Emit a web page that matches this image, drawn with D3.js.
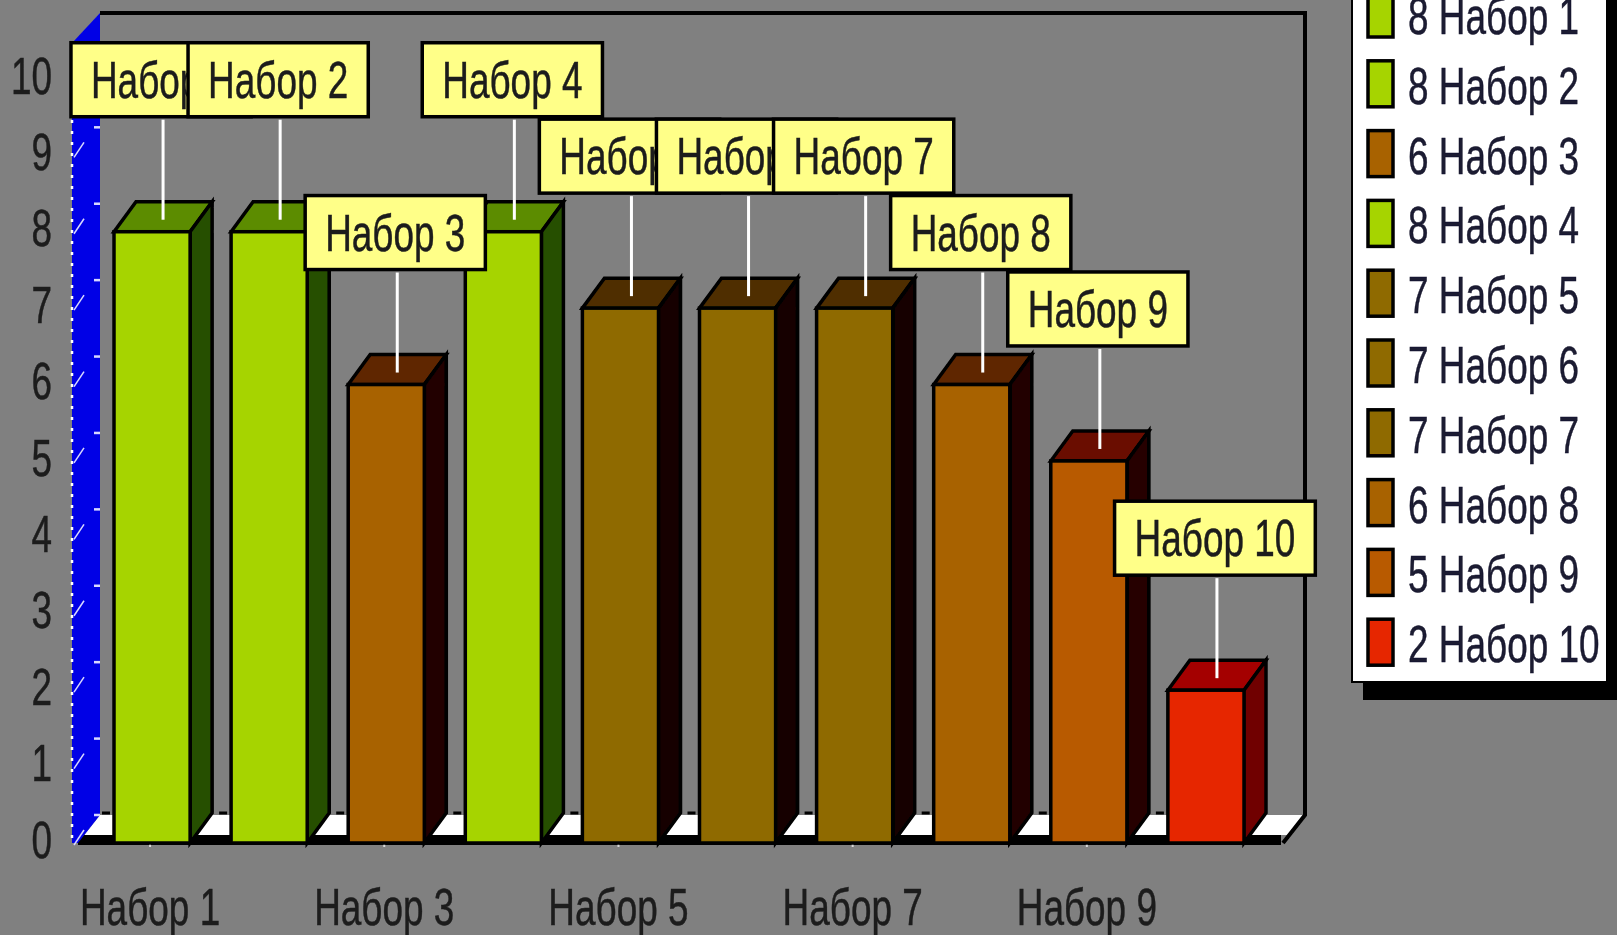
<!DOCTYPE html>
<html>
<head>
<meta charset="utf-8">
<script src="https://cdn.jsdelivr.net/npm/d3@7"></script>
<style>
html, body { margin: 0; padding: 0; background: #808080; overflow: hidden; }
text { font-family: "Liberation Sans", Arial, sans-serif; font-size: 52px; fill: #1c1c1c; stroke: #1c1c1c; stroke-width: 0.5px; }
</style>
</head>
<body>
<div id="chart"></div>
<script>
const categories = ["Набор 1", "Набор 2", "Набор 3", "Набор 4", "Набор 5", "Набор 6", "Набор 7", "Набор 8", "Набор 9", "Набор 10"];
const values = [8, 8, 6, 8, 7, 7, 7, 6, 5, 2];
const yTicks = [0, 1, 2, 3, 4, 5, 6, 7, 8, 9, 10];
const xTicks = ["Набор 1", "Набор 3", "Набор 5", "Набор 7", "Набор 9"];

const width = 1617;
const height = 935;
const depthX = 22;
const depthY = 30;
const textSquash = 0.71;

const colorKeys = [8, 7, 6, 5, 2];
const frontColor = d3.scaleOrdinal().domain(colorKeys).range(["#a6d400", "#8f6a00", "#a86200", "#b85a00", "#e62600"]);
const topColor = d3.scaleOrdinal().domain(colorKeys).range(["#5c8c05", "#4f2e00", "#5e2600", "#6a1000", "#a40000"]);
const sideColor = d3.scaleOrdinal().domain(colorKeys).range(["#265000", "#150000", "#200000", "#250000", "#700000"]);

const x = d3.scaleBand()
    .domain(categories)
    .range([114, 1244])
    .paddingInner(0.35)
    .paddingOuter(0);

const y = d3.scaleLinear()
    .domain([0, 10.47])
    .range([843, 43]);

const svg = d3.select("#chart")
    .append("svg")
    .attr("width", width)
    .attr("height", height)
    .style("display", "block");

svg.append("defs").append("filter")
    .attr("id", "soft")
    .attr("x", 0).attr("y", 0)
    .attr("width", "100%").attr("height", "100%")
    .attr("filterUnits", "userSpaceOnUse")
    .append("feGaussianBlur")
    .attr("stdDeviation", 0.7);

const root = svg.append("g").attr("filter", "url(#soft)");

root.append("rect")
    .attr("width", width)
    .attr("height", height)
    .attr("fill", "#808080");

// walls and floor
const wallLeft = 100;
const wallRight = 1305;
const wallTop = y.range()[1] - depthY;
const wallBottom = y(0) - depthY + 2;
const floorStrip = 8;
const floorCut = depthX * floorStrip / (y(0) - wallBottom);

root.append("polygon")
    .attr("points", [[wallLeft, wallBottom], [wallRight, wallBottom], [wallRight - depthX + floorCut, y(0) - floorStrip], [wallLeft - depthX + floorCut, y(0) - floorStrip]].join(" "))
    .attr("fill", "#fff");

root.append("rect")
    .attr("x", wallLeft - depthX)
    .attr("y", y(0) - floorStrip)
    .attr("width", wallRight - wallLeft - 2)
    .attr("height", floorStrip + 2)
    .attr("fill", "#000");

// short bits of the floor's rear edge showing beside the bars
root.selectAll(".floor-dash")
    .data(categories)
    .join("line")
    .attr("class", "floor-dash")
    .attr("x1", d => x(d) - 12)
    .attr("x2", d => x(d) - 4)
    .attr("y1", wallBottom - 2)
    .attr("y2", wallBottom - 2)
    .attr("stroke", "#000")
    .attr("stroke-width", 3);

root.append("polygon")
    .attr("points", [[72, wallTop + depthY], [wallLeft, wallTop], [wallLeft, wallBottom], [wallLeft - depthX, y(0)], [72, y(0)]].join(" "))
    .attr("fill", "#0505e6");

root.append("path")
    .attr("d", `M${wallLeft},${wallTop}H${wallRight}V${wallBottom}L${wallRight - depthX},${y(0)}`)
    .attr("fill", "none")
    .attr("stroke", "#000")
    .attr("stroke-width", 4);

root.append("line")
    .attr("x1", 72).attr("x2", 72)
    .attr("y1", wallTop + depthY).attr("y2", y(0))
    .attr("stroke", "#fff")
    .attr("stroke-width", 2.5)
    .attr("stroke-dasharray", "3 8");

// little tick marks on the blue wall
root.selectAll(".wall-tick")
    .data(yTicks)
    .join("line")
    .attr("class", "wall-tick")
    .attr("x1", 74)
    .attr("y1", d => y(d) + 2)
    .attr("x2", 84)
    .attr("y2", d => y(d) - 13)
    .attr("stroke", "#d8d8ff")
    .attr("stroke-width", 1.5);

root.selectAll(".wall-stub")
    .data(yTicks)
    .join("line")
    .attr("class", "wall-stub")
    .attr("x1", 94)
    .attr("x2", wallLeft)
    .attr("y1", d => y(d) - depthY + 2)
    .attr("y2", d => y(d) - depthY + 2)
    .attr("stroke", "#d8d8ff")
    .attr("stroke-width", 2.5);

// axes
const yAxis = root.append("g")
    .attr("transform", "translate(52,-3)")
    .call(d3.axisLeft(y).tickValues(yTicks).tickSize(0).tickPadding(0));

const xAxis = root.append("g")
    .attr("transform", `translate(-2,${y(0)})`)
    .call(d3.axisBottom(x).tickValues(xTicks).tickSize(4).tickPadding(0));

yAxis.select(".domain").remove();
xAxis.select(".domain").remove();
xAxis.selectAll("line").attr("stroke", "#d8d8d8").attr("stroke-width", 2);
yAxis.selectAll("text").attr("dy", "0.33em").attr("font-size", null);
xAxis.selectAll("text").attr("y", 82).attr("dy", 0);
root.selectAll(".tick text").style("font-family", null).style("font-size", "52px");
root.selectAll("g").filter(function () { return this.hasAttribute("font-family"); })
    .attr("font-family", null).attr("font-size", null);

// bars
const bars = root.selectAll(".bar")
    .data(categories)
    .join("g")
    .attr("class", "bar");

const barLeft = d => x(d);
const barRight = d => x(d) + x.bandwidth();
const barTop = (d, i) => y(values[i]);

bars.append("polygon")
    .attr("points", (d, i) => [
        [barLeft(d), barTop(d, i)],
        [barLeft(d) + depthX, barTop(d, i) - depthY],
        [barRight(d) + depthX, barTop(d, i) - depthY],
        [barRight(d), barTop(d, i)]
    ].join(" "))
    .attr("fill", (d, i) => topColor(values[i]));

bars.append("polygon")
    .attr("points", (d, i) => [
        [barRight(d), barTop(d, i)],
        [barRight(d) + depthX, barTop(d, i) - depthY],
        [barRight(d) + depthX, y(0) - depthY],
        [barRight(d), y(0)]
    ].join(" "))
    .attr("fill", (d, i) => sideColor(values[i]));

bars.append("rect")
    .attr("x", barLeft)
    .attr("y", barTop)
    .attr("width", x.bandwidth())
    .attr("height", (d, i) => y(0) - barTop(d, i))
    .attr("fill", (d, i) => frontColor(values[i]));

bars.selectAll("polygon, rect")
    .attr("stroke", "#000")
    .attr("stroke-width", 3.5)
    .attr("stroke-linejoin", "miter");

// callouts, later ones sit on top of earlier ones
const labelHeight = 74;
const labelGap = 103;
const leaderEnd = 12;

const callouts = root.selectAll(".callout")
    .data(categories)
    .join("g")
    .attr("class", "callout");

const leaderX = d => x(d) + x.bandwidth() / 2 + depthX / 2;

callouts.append("line")
    .attr("x1", leaderX)
    .attr("x2", leaderX)
    .attr("y1", (d, i) => barTop(d, i) - leaderEnd - labelGap + 3)
    .attr("y2", (d, i) => barTop(d, i) - leaderEnd)
    .attr("stroke", "#fff")
    .attr("stroke-width", 3);

const calloutBox = callouts.append("rect")
    .attr("y", (d, i) => barTop(d, i) - leaderEnd - labelGap - labelHeight)
    .attr("height", labelHeight)
    .attr("fill", "#ffff88")
    .attr("stroke", "#000")
    .attr("stroke-width", 3.5);

const calloutText = callouts.append("text")
    .attr("x", d => leaderX(d) - 2)
    .attr("y", (d, i) => barTop(d, i) - leaderEnd - labelGap - 19)
    .attr("text-anchor", "middle")
    .text(d => d);

// legend
const legendLeft = 1352;
const legendRight = 1607;
const legendBottom = 682;
const legendStep = 69.8;
const legendFirst = 14;

root.append("rect")
    .attr("x", legendLeft + 11)
    .attr("y", -20)
    .attr("width", width - legendLeft)
    .attr("height", legendBottom + 38)
    .attr("fill", "#000");

root.append("rect")
    .attr("x", legendLeft)
    .attr("y", -20)
    .attr("width", legendRight - legendLeft)
    .attr("height", legendBottom + 20)
    .attr("fill", "#fff")
    .attr("stroke", "#000")
    .attr("stroke-width", 2);

const legendItems = root.selectAll(".legend-item")
    .data(categories)
    .join("g")
    .attr("class", "legend-item")
    .attr("transform", (d, i) => `translate(0,${legendFirst + i * legendStep})`);

legendItems.append("rect")
    .attr("x", 1368)
    .attr("y", -23)
    .attr("width", 25)
    .attr("height", 46)
    .attr("fill", (d, i) => frontColor(values[i]))
    .attr("stroke", "#000")
    .attr("stroke-width", 3.5);

legendItems.append("text")
    .attr("x", 1408)
    .attr("y", 20)
    .style("fill", "#1a1a30")
    .style("stroke", "#1a1a30")
    .text((d, i) => `${values[i]} ${d}`);

// the original type is a tall narrow face, so squeeze every label sideways
root.selectAll("text").each(function () {
    const t = d3.select(this);
    t.attr("textLength", this.getComputedTextLength() * textSquash)
        .attr("lengthAdjust", "spacingAndGlyphs");
});

calloutBox
    .attr("x", function (d) {
        return leaderX(d) - 2 - (this.parentNode.querySelector("text").getComputedTextLength() + 40) / 2;
    })
    .attr("width", function () {
        return this.parentNode.querySelector("text").getComputedTextLength() + 40;
    });
</script>
</body>
</html>
